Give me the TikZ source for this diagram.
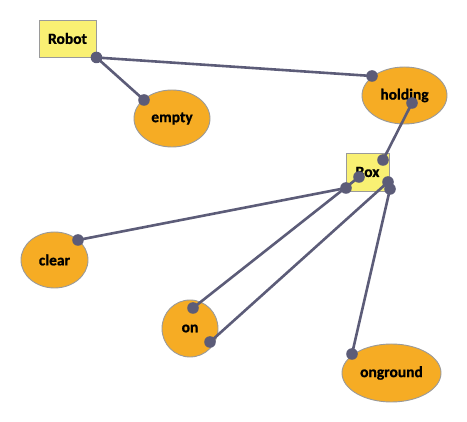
\documentclass[tikz,border=0pt]{standalone}
\usepackage{fontspec}
\setmainfont{Carlito}[FakeBold=0.8]
\usetikzlibrary{shapes.geometric}
\definecolor{orangefill}{HTML}{F6AC24}
\definecolor{yellowfill}{HTML}{F9F073}
\definecolor{bordergray}{HTML}{9A9A9A}
\definecolor{linkcol}{HTML}{5C5C78}
\tikzset{
  labelfont/.style={font=\fontsize{15.5}{17}\selectfont\bfseries},
  classbox/.style={draw=bordergray, line width=0.9pt, fill=yellowfill, inner sep=0pt, labelfont},
  valnode/.style={ellipse, draw=bordergray, line width=0.9pt, fill=orangefill, inner sep=0pt, labelfont},
  link/.style={draw=linkcol, line width=2.6pt},
  enddot/.style={fill=linkcol, radius=5.8},
}
\begin{document}
\begin{tikzpicture}[x=1pt,y=-1pt]
\useasboundingbox (0,0) rectangle (467,422);
% nodes
\node[classbox, minimum width=57pt, minimum height=37pt] (robot) at (67.5,38.5) {Robot};
\node[classbox, minimum width=43pt, minimum height=38pt] (box) at (367.5,172) {Box};
\node[valnode, minimum width=76pt, minimum height=57pt] (empty) at (172,118.5) {empty};
\node[valnode, minimum width=85pt, minimum height=57pt] (holding) at (404.5,95.5) {holding};
\node[valnode, minimum width=67pt, minimum height=56pt] (clear) at (54.5,260) {clear};
\node[valnode, minimum width=56pt, minimum height=57pt] (on) at (190,328.5) {on};
\node[valnode, minimum width=99pt, minimum height=58pt] (onground) at (391.5,373) {onground};
% connector end points (yshift is upward)
\coordinate (rA) at (robot.south east);
\coordinate (rB) at ([xshift=-1pt]robot.south east);
\coordinate (eA) at ([xshift=-28pt,yshift=18.5pt]empty.center);
\coordinate (hA) at ([xshift=-32.5pt,yshift=19.5pt]holding.center);
\coordinate (hB) at ([xshift=7.5pt,yshift=-7.5pt]holding.center);
\coordinate (bA) at ([xshift=15.5pt,yshift=12pt]box.center);
\coordinate (bB) at ([xshift=-8.5pt,yshift=-5pt]box.center);
\coordinate (bC) at ([xshift=-21.5pt,yshift=-16pt]box.center);
\coordinate (bD) at ([xshift=20.5pt,yshift=-10pt]box.center);
\coordinate (bE) at ([xshift=22.5pt,yshift=-17pt]box.center);
\coordinate (cA) at ([xshift=23.5pt,yshift=20pt]clear.center);
\coordinate (oA) at ([xshift=3pt,yshift=20.5pt]on.center);
\coordinate (oB) at ([xshift=20pt,yshift=-13.5pt]on.center);
\coordinate (gA) at ([xshift=-39.5pt,yshift=19pt]onground.center);
% connectors
\draw[link] (rA) -- (eA);
\draw[link] (rB) -- (hA);
\draw[link] (hB) -- (bA);
\draw[link] (bC) -- (cA);
\draw[link] (bB) -- (oA);
\draw[link] (bD) -- (oB);
\draw[link] (bE) -- (gA);
% end dots
\foreach \p in {rA,eA,hA,hB,bA,bB,bC,bD,bE,cA,oA,oB,gA}
  \fill[enddot] (\p) circle;
\end{tikzpicture}
\end{document}
